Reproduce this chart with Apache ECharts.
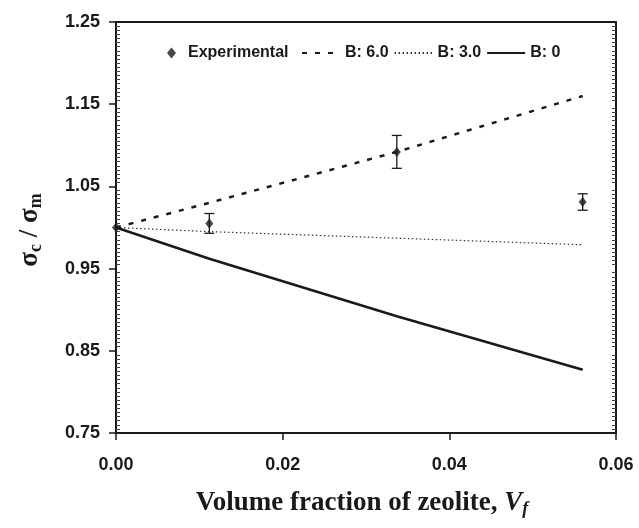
<!DOCTYPE html>
<html>
<head>
<meta charset="utf-8">
<script src="https://cdn.jsdelivr.net/npm/echarts@6/dist/echarts.min.js"></script>
<style>html,body{margin:0;padding:0;background:#fff}#c{width:639px;height:528px}</style>
</head>
<body>
<div id="c"></div>
<script>
// ---- data ----
const xTicks = [0, 0.02, 0.04, 0.06];
const yTicks = [0.75, 0.85, 0.95, 1.05, 1.15, 1.25];
const modelX = [0, 0.0112, 0.0337, 0.056];
const b60 = [1.0, 1.030, 1.092, 1.160];
const b30 = [1.0, 0.995, 0.987, 0.979];
const b0 = [1.0, 0.962, 0.892, 0.827];
const expX = [0, 0.0112, 0.0337, 0.056];
const expY = [1.0, 1.005, 1.092, 1.031];
const expErr = [0, 0.012, 0.020, 0.010];

const zip = (xs, ys) => xs.map((x, i) => [x, ys[i]]);
const chart = echarts.init(document.getElementById('c'), null, {renderer: 'canvas'});
const lblFont = {fontFamily: 'Liberation Sans, Arial, sans-serif', fontWeight: 'bold', fontSize: 18, color: '#1a1a1a'};
const legFont = {fontFamily: 'Liberation Sans, Arial, sans-serif', fontWeight: 'bold', fontSize: 16, color: '#1a1a1a'};
const axLine = {show: true, onZero: false, lineStyle: {color: '#1a1a1a', width: 2}};
const yBase = {type: 'value', min: yTicks[0], max: yTicks[yTicks.length - 1], interval: 0.1, splitLine: {show: false}};
const serif = 'Liberation Serif, Times New Roman, serif';

const option = {
  animation: false,
  backgroundColor: '#fff',
  grid: {left: 116, top: 22, width: 500, height: 411, show: false},
  legend: [
    {data: ['Experimental'], left: 162, top: 40, itemWidth: 9, itemHeight: 11, itemGap: 8,
     textStyle: Object.assign({padding: [0, 0, 0, 7]}, legFont)},
    {data: ['B: 6.0', 'B: 3.0', 'B: 0'], left: 296, top: 40, itemWidth: 38, itemHeight: 14, itemGap: 5,
     itemStyle: {opacity: 0}, textStyle: legFont}
  ],
  xAxis: [
    {type: 'value', min: xTicks[0], max: xTicks[xTicks.length - 1], interval: 0.02, position: 'bottom',
     axisLine: axLine, axisTick: {show: true, length: 7, lineStyle: {color: '#1a1a1a', width: 1.5}},
     axisLabel: Object.assign({margin: 23, formatter: v => v.toFixed(2)}, lblFont),
     splitLine: {show: false}},
    {type: 'value', min: xTicks[0], max: xTicks[xTicks.length - 1], interval: 0.02, position: 'top',
     axisLine: axLine, axisTick: {show: false}, axisLabel: {show: false}, splitLine: {show: false}}
  ],
  yAxis: [
    Object.assign({}, yBase, {position: 'left',
      axisLine: axLine, axisTick: {show: true, length: 7, lineStyle: {color: '#1a1a1a', width: 1.5}},
      axisLabel: Object.assign({margin: 16, formatter: v => v.toFixed(2)}, lblFont)}),
    Object.assign({}, yBase, {position: 'left',
      axisLine: axLine, axisTick: {show: false, inside: true}, axisLabel: {show: false},
      minorTick: {show: true, splitNumber: 20, length: 4, lineStyle: {color: '#444', width: 1}}}),
    Object.assign({}, yBase, {position: 'right',
      axisLine: axLine, axisTick: {show: false, inside: true}, axisLabel: {show: false},
      minorTick: {show: true, splitNumber: 20, length: 4, lineStyle: {color: '#444', width: 1}}})
  ],
  series: [
    {name: 'Experimental', type: 'scatter', data: zip(expX, expY), symbol: 'diamond', symbolSize: [8, 10],
     itemStyle: {color: '#1a1a1a'}, clip: false, z: 5},
    {name: 'errbars', type: 'custom', data: expX.map((x, i) => [x, expY[i], expErr[i]]), clip: false, z: 4,
     renderItem: function (params, api) {
       const x = api.value(0), y = api.value(1), e = api.value(2);
       if (!e) return null;
       const t = api.coord([x, y + e]), b = api.coord([x, y - e]);
       const hw = 5, st = {stroke: '#1a1a1a', lineWidth: 1.3};
       return {type: 'group', children: [
         {type: 'line', shape: {x1: t[0], y1: t[1], x2: b[0], y2: b[1]}, style: st},
         {type: 'line', shape: {x1: t[0] - hw, y1: t[1], x2: t[0] + hw, y2: t[1]}, style: st},
         {type: 'line', shape: {x1: b[0] - hw, y1: b[1], x2: b[0] + hw, y2: b[1]}, style: st}
       ]};
     }},
    {name: 'B: 6.0', type: 'line', data: zip(modelX, b60), symbol: 'none',
     lineStyle: {color: '#1a1a1a', width: 2.5, type: [5, 8]}, itemStyle: {color: '#1a1a1a'}},
    {name: 'B: 3.0', type: 'line', data: zip(modelX, b30), symbol: 'none',
     lineStyle: {color: '#333', width: 1.2, type: [1.5, 2.5]}, itemStyle: {color: '#333'}},
    {name: 'B: 0', type: 'line', data: zip(modelX, b0), symbol: 'none',
     lineStyle: {color: '#1a1a1a', width: 2.5, type: 'solid'}, itemStyle: {color: '#1a1a1a'}}
  ],
  graphic: [
    {type: 'text', x: 362, y: 503, style: {
      text: '{n|Volume fraction of zeolite, }{v|V}{f|f}', align: 'center', verticalAlign: 'middle',
      rich: {
        n: {fontFamily: serif, fontWeight: 'bold', fontSize: 27, fill: '#1a1a1a', lineHeight: 32},
        v: {fontFamily: serif, fontWeight: 'bold', fontStyle: 'italic', fontSize: 27, fill: '#1a1a1a', lineHeight: 32},
        f: {fontFamily: serif, fontWeight: 'bold', fontStyle: 'italic', fontSize: 18, fill: '#1a1a1a', lineHeight: 32, padding: [13, 0, 0, 0]}
      }}},
    {type: 'text', x: 30, y: 230, rotation: Math.PI / 2, style: {
      text: '{s|σ}{b|c}{s| / σ}{b|m}', align: 'center', verticalAlign: 'middle',
      rich: {
        s: {fontFamily: serif, fontWeight: 'bold', fontSize: 27, fill: '#1a1a1a', lineHeight: 32},
        b: {fontFamily: serif, fontWeight: 'bold', fontSize: 18, fill: '#1a1a1a', lineHeight: 32, padding: [13, 0, 0, 0]}
      }}}
  ]
};
chart.setOption(option);
</script>
</body>
</html>
